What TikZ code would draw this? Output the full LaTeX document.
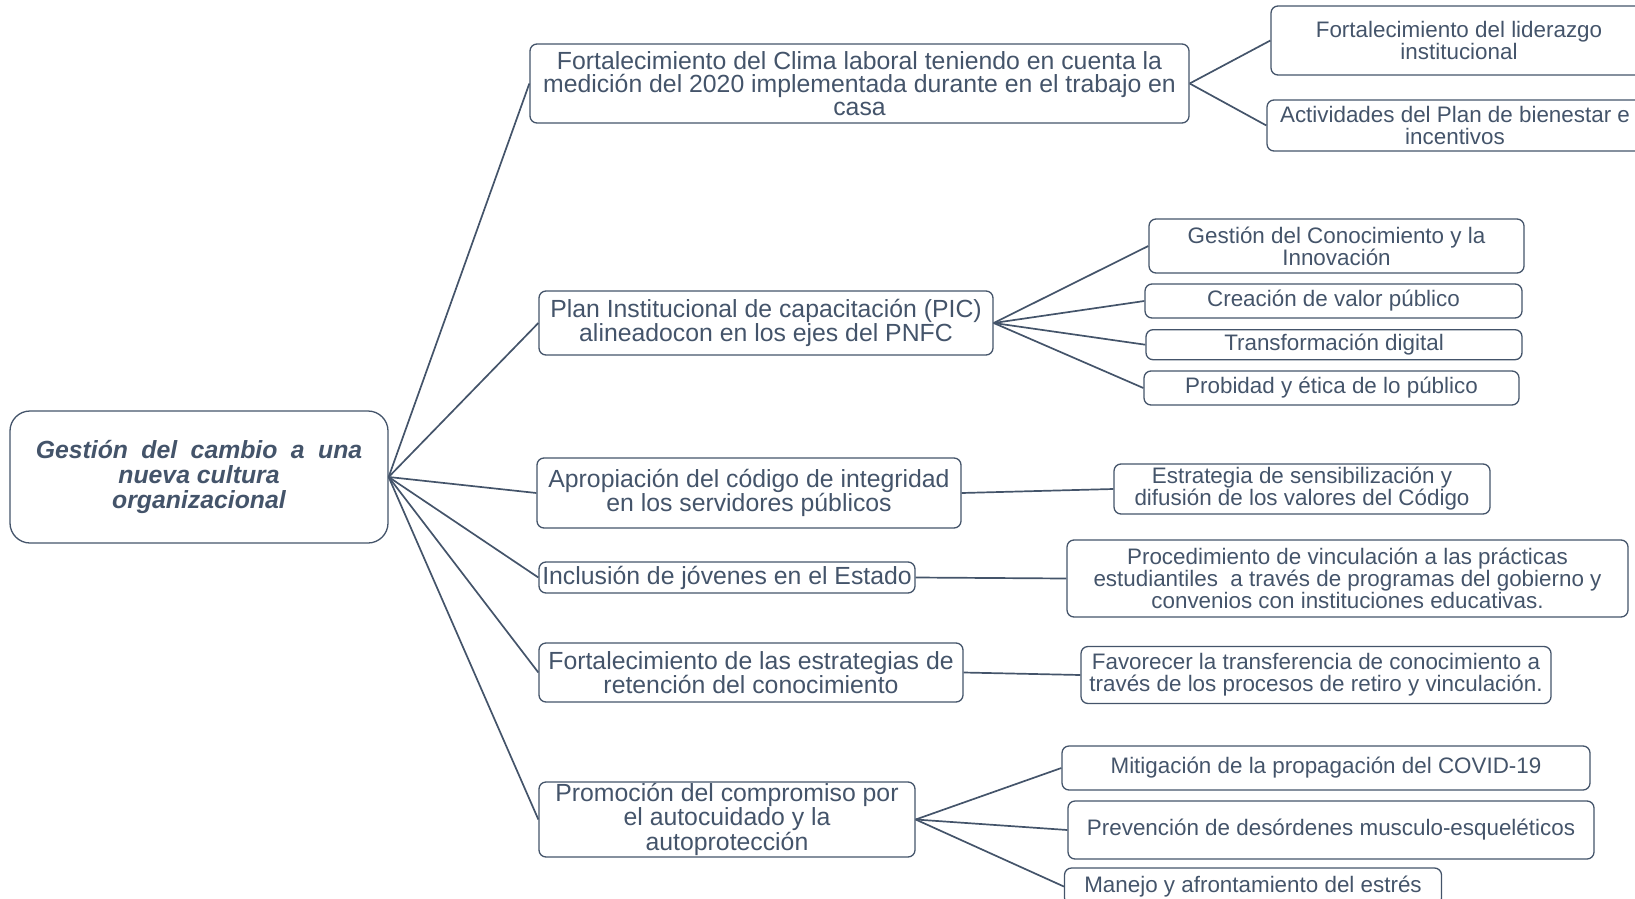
\documentclass[tikz,border=0pt]{standalone}
\usepackage{fontspec}
\setmainfont{Liberation Sans}
\usepackage{xcolor}
\usepackage{tikz}
\usetikzlibrary{positioning}
\definecolor{pizarra}{RGB}{68,84,106}
\tikzset{
	linea/.style={draw=pizarra, line width=1.7pt},
	cajanodo/.style={
		rectangle, rounded corners=7pt,
		draw=pizarra, line width=1.3pt, text=pizarra,
		align=center, inner sep=0pt
	}
}

\begin{document}
\begin{tikzpicture}[x=1pt, y=-1pt,
	raiznodo/.style={cajanodo, rounded corners=20pt, font=\fontsize{24.8}{25}\selectfont\bfseries\itshape},
	ramanodo/.style={cajanodo, font=\fontsize{24.8}{23}\selectfont},
	hojanodo/.style={cajanodo, font=\fontsize{22.4}{22}\selectfont},
	]
	\useasboundingbox (0,0) rectangle (1635,899);
	
	%Nodes
	\node[raiznodo, minimum width=378pt, minimum height=132pt] (raiz) at (199,477) {\spaceskip=0.54em\relax Gestión del cambio a una\\ nueva cultura\\ organizacional};
	
	\node[ramanodo, minimum width=659pt, minimum height=79pt] (clima) at (859.5,83.5) {Fortalecimiento del Clima laboral teniendo en cuenta la\\ medición del 2020 implementada durante en el trabajo en\\ casa};
	\node[hojanodo, minimum width=376pt, minimum height=69pt] (lider) at (1459,40.5) {Fortalecimiento del liderazgo\\ institucional};
	\node[hojanodo, minimum width=376pt, minimum height=51pt] (bienestar) at (1455,125.5) {Actividades del Plan de bienestar e\\ incentivos};
	
	\node[ramanodo, minimum width=454pt, minimum height=64pt] (plan) at (766,323) {Plan Institucional de capacitación (PIC)\\ alineadocon en los ejes del PNFC};
	\node[hojanodo, minimum width=375pt, minimum height=54pt] (conocimiento) at (1336.5,246) {Gestión del Conocimiento y la\\ Innovación};
	\node[hojanodo, minimum width=377pt, minimum height=34pt] (valor) at (1333.5,301) {Creación de valor público};
	\node[hojanodo, minimum width=376pt, minimum height=30pt] (digital) at (1334,344.7) {Transformación digital};
	\node[hojanodo, minimum width=375pt, minimum height=34pt] (probidad) at (1331.5,388) {Probidad y ética de lo público};
	
	\node[ramanodo, minimum width=424pt, minimum height=70pt] (codigo) at (749,493) {Apropiación del código de integridad\\ en los servidores públicos};
	\node[hojanodo, minimum width=376pt, minimum height=50pt] (sensibilizacion) at (1302,489) {Estrategia de sensibilización y\\ difusión de los valores del Código};
	
	\node[ramanodo, minimum width=376pt, minimum height=31pt] (jovenes) at (727,577.5) {Inclusión de jóvenes en el Estado};
	\node[hojanodo, minimum width=561pt, minimum height=77pt] (practicas) at (1347.5,578.5) {Procedimiento de vinculación a las prácticas\\ estudiantiles\ \ a través de programas del gobierno y\\ convenios con instituciones educativas.};
	
	\node[ramanodo, minimum width=424pt, minimum height=59pt] (retencion) at (751,672.5) {Fortalecimiento de las estrategias de\\ retención del conocimiento};
	\node[hojanodo, minimum width=470pt, minimum height=57pt] (transferencia) at (1316,675) {Favorecer la transferencia de conocimiento a\\ través de los procesos de retiro y vinculación.};
	
	\node[ramanodo, minimum width=376pt, minimum height=75pt] (autocuidado) at (727,819.5) {Promoción del compromiso por\\ el autocuidado y la\\ autoprotección};
	\node[hojanodo, minimum width=528pt, minimum height=44pt] (covid) at (1326,768) {Mitigación de la propagación del COVID-19};
	\node[hojanodo, minimum width=526pt, minimum height=58pt] (musculo) at (1331,830) {Prevención de desórdenes musculo-esqueléticos};
	\node[hojanodo, minimum width=377pt, minimum height=37pt] (estres) at (1253,886.5) {Manejo y afrontamiento del estrés};
	
	%Lines
	\draw[linea] (raiz.east) -- (clima.west);
	\draw[linea] (raiz.east) -- (plan.west);
	\draw[linea] (raiz.east) -- (codigo.west);
	\draw[linea] (raiz.east) -- (jovenes.west);
	\draw[linea] (raiz.east) -- (retencion.west);
	\draw[linea] (raiz.east) -- (autocuidado.west);
	
	\draw[linea] (clima.east) -- (lider.west);
	\draw[linea] (clima.east) -- (bienestar.west);
	\draw[linea] (plan.east) -- (conocimiento.west);
	\draw[linea] (plan.east) -- (valor.west);
	\draw[linea] (plan.east) -- (digital.west);
	\draw[linea] (plan.east) -- (probidad.west);
	\draw[linea] (codigo.east) -- (sensibilizacion.west);
	\draw[linea] (jovenes.east) -- (practicas.west);
	\draw[linea] (retencion.east) -- (transferencia.west);
	\draw[linea] (autocuidado.east) -- (covid.west);
	\draw[linea] (autocuidado.east) -- (musculo.west);
	\draw[linea] (autocuidado.east) -- (estres.west);
\end{tikzpicture}
\end{document}
